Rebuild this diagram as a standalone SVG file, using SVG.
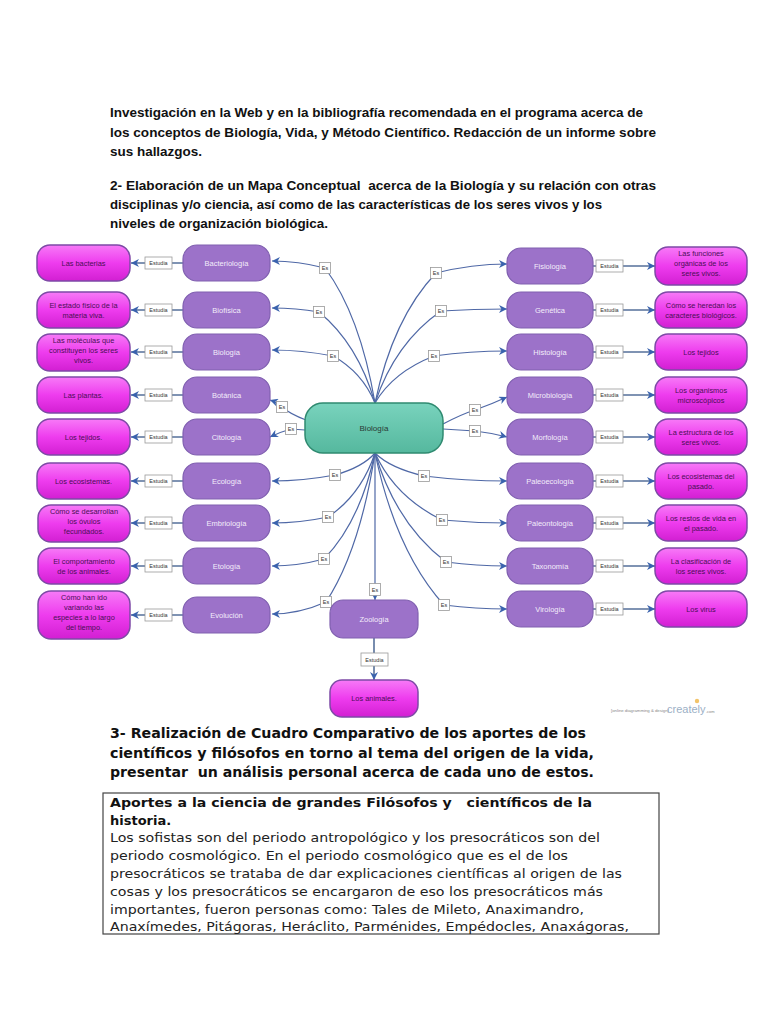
<svg xmlns="http://www.w3.org/2000/svg" width="768" height="1024" viewBox="0 0 768 1024">
<defs>
<linearGradient id="pinkG" x1="0" y1="0" x2="0" y2="1"><stop offset="0" stop-color="#f77af7"/><stop offset="0.5" stop-color="#ee3cee"/><stop offset="1" stop-color="#d21fd2"/></linearGradient>
<linearGradient id="tealG" x1="0" y1="0" x2="0" y2="1"><stop offset="0" stop-color="#79d3bd"/><stop offset="1" stop-color="#55b89e"/></linearGradient>
<marker id="arr" viewBox="0 0 10 10" refX="10" refY="5" markerWidth="8" markerHeight="8" markerUnits="userSpaceOnUse" orient="auto"><path d="M0,0 L10,5 L0,10 L3,5 z" fill="#3a62ad"/></marker>
<style>
.hd{font-family:"Liberation Sans",Arial,sans-serif;font-weight:bold;font-size:12px;fill:#111}
.h3{font-family:"DejaVu Sans",sans-serif;font-weight:bold;font-size:13.5px;fill:#111}
.bt{font-family:"DejaVu Sans",sans-serif;font-size:13px;fill:#222}
.bb{font-family:"DejaVu Sans",sans-serif;font-weight:bold;font-size:13px;fill:#111}
.pu rect{fill:#9c72c9;stroke:#8060b0;stroke-width:1.2}
.pu text{font-family:"Liberation Sans",Arial,sans-serif;font-size:7.5px;fill:#f3ecfa;text-anchor:middle}
.pk rect{fill:url(#pinkG);stroke:#7e4aa6;stroke-width:1.5}
.pk text{font-family:"Liberation Sans",Arial,sans-serif;font-size:7.4px;fill:#4a0f55;text-anchor:middle}
.lb rect{fill:#fff;stroke:#9a9a9a;stroke-width:0.8}
.lb text{font-family:"Liberation Sans",Arial,sans-serif;font-size:5.5px;fill:#333;text-anchor:middle}
.es{fill:none;stroke:#4f68a6;stroke-width:1.2}
.st{fill:none;stroke:#56709a;stroke-width:1.6}
</style>
</defs>
<rect width="768" height="1024" fill="#fff"/>

<g id="header">
<text class="hd" x="110" y="117" textLength="533" lengthAdjust="spacingAndGlyphs">Investigación en la Web y en la bibliografía recomendada en el programa acerca de</text>
<text class="hd" x="110" y="137" textLength="546" lengthAdjust="spacingAndGlyphs">los conceptos de Biología, Vida, y Método Científico. Redacción de un informe sobre</text>
<text class="hd" x="110" y="156" textLength="92" lengthAdjust="spacingAndGlyphs">sus hallazgos.</text>
<text class="hd" x="110" y="190" textLength="546" lengthAdjust="spacingAndGlyphs" xml:space="preserve">2- Elaboración de un Mapa Conceptual  acerca de la Biología y su relación con otras</text>
<text class="hd" x="110" y="209" textLength="492" lengthAdjust="spacingAndGlyphs">disciplinas y/o ciencia, así como de las características de los seres vivos y los</text>
<text class="hd" x="110" y="228" textLength="218" lengthAdjust="spacingAndGlyphs">niveles de organización biológica.</text>
</g>

<g id="connectors">
<path class="es" marker-end="url(#arr)" d="M375,403 Q360,315 325,268 Q298,261 272,261"/>
<path class="es" marker-end="url(#arr)" d="M375,403 Q358,344 319,312 Q296,308 272,308"/>
<path class="es" marker-end="url(#arr)" d="M375,403 Q362,372 333,356 Q302,350 272,350"/>
<path class="es" marker-end="url(#arr)" d="M375,403 Q393,318 436,273 Q472,264 507,264"/>
<path class="es" marker-end="url(#arr)" d="M375,403 Q395,343 441,311 Q474,309 507,309"/>
<path class="es" marker-end="url(#arr)" d="M375,403 Q393,372 434,356 Q470,351 507,351"/>
<path class="es" marker-end="url(#arr)" d="M375,453 Q363,467 335,475 Q303,481 272,481"/>
<path class="es" marker-end="url(#arr)" d="M375,453 Q361,495 328,517 Q300,523 272,523"/>
<path class="es" marker-end="url(#arr)" d="M375,453 Q360,522 324,559 Q298,566 272,566"/>
<path class="es" marker-end="url(#arr)" d="M375,453 Q360,550 326,602 Q299,614 272,614"/>
<path class="es" marker-end="url(#arr)" d="M375,453 Q390,468 424,476 Q465,481 507,481"/>
<path class="es" marker-end="url(#arr)" d="M375,453 Q395,497 442,520 Q475,523 507,523"/>
<path class="es" marker-end="url(#arr)" d="M375,453 Q396,524 446,562 Q477,566 507,566"/>
<path class="es" marker-end="url(#arr)" d="M375,453 Q396,552 444,605 Q476,609 507,609"/>
<path class="es" marker-end="url(#arr)" d="M306,420 Q290,414 282,407 Q276,402 270,400"/>
<path class="es" marker-end="url(#arr)" d="M305,430 L291,429 Q280,432 270,437"/>
<path class="es" marker-end="url(#arr)" d="M443,424 Q462,414 475,410 Q492,404 507,397"/>
<path class="es" marker-end="url(#arr)" d="M443,429 L475,431 Q492,433 507,437"/>
<path class="es" marker-end="url(#arr)" d="M375,453 L375,600"/>
<path class="st" marker-end="url(#arr)" d="M374,638 L374,680"/>
<g id="estudia-left">
<path class="st" d="M183,263 L172,263 M145,263 L131,263" marker-end="url(#arr)"/>
<path class="st" d="M183,310 L172,310 M145,310 L131,310" marker-end="url(#arr)"/>
<path class="st" d="M183,352 L172,352 M145,352 L131,352" marker-end="url(#arr)"/>
<path class="st" d="M183,395 L172,395 M145,395 L131,395" marker-end="url(#arr)"/>
<path class="st" d="M183,437 L172,437 M145,437 L131,437" marker-end="url(#arr)"/>
<path class="st" d="M183,481 L172,481 M145,481 L131,481" marker-end="url(#arr)"/>
<path class="st" d="M183,523 L172,523 M145,523 L131,523" marker-end="url(#arr)"/>
<path class="st" d="M183,566 L172,566 M145,566 L131,566" marker-end="url(#arr)"/>
<path class="st" d="M183,615 L172,615 M145,615 L131,615" marker-end="url(#arr)"/>
</g>
<g id="estudia-right">
<path class="st" d="M593,266 L596,266 M623,266 L655,266" marker-end="url(#arr)"/>
<path class="st" d="M593,310 L596,310 M623,310 L655,310" marker-end="url(#arr)"/>
<path class="st" d="M593,352 L596,352 M623,352 L655,352" marker-end="url(#arr)"/>
<path class="st" d="M593,395 L596,395 M623,395 L655,395" marker-end="url(#arr)"/>
<path class="st" d="M593,437 L596,437 M623,437 L655,437" marker-end="url(#arr)"/>
<path class="st" d="M593,481 L596,481 M623,481 L655,481" marker-end="url(#arr)"/>
<path class="st" d="M593,523 L596,523 M623,523 L655,523" marker-end="url(#arr)"/>
<path class="st" d="M593,566 L596,566 M623,566 L655,566" marker-end="url(#arr)"/>
<path class="st" d="M593,609 L596,609 M623,609 L655,609" marker-end="url(#arr)"/>
</g>
<g class="lb">
<rect x="319.5" y="262.5" width="11" height="11"/><text x="325" y="270">Es</text>
<rect x="313.5" y="306.5" width="11" height="11"/><text x="319" y="314">Es</text>
<rect x="327.5" y="350.5" width="11" height="11"/><text x="333" y="358">Es</text>
<rect x="430.5" y="267.5" width="11" height="11"/><text x="436" y="275">Es</text>
<rect x="435.5" y="305.5" width="11" height="11"/><text x="441" y="313">Es</text>
<rect x="428.5" y="350.5" width="11" height="11"/><text x="434" y="358">Es</text>
<rect x="276.5" y="401.5" width="11" height="11"/><text x="282" y="409">Es</text>
<rect x="285.5" y="423.5" width="11" height="11"/><text x="291" y="431">Es</text>
<rect x="469.5" y="404.5" width="11" height="11"/><text x="475" y="412">Es</text>
<rect x="469.5" y="425.5" width="11" height="11"/><text x="475" y="433">Es</text>
<rect x="329.5" y="469.5" width="11" height="11"/><text x="335" y="477">Es</text>
<rect x="322.5" y="511.5" width="11" height="11"/><text x="328" y="519">Es</text>
<rect x="318.5" y="553.5" width="11" height="11"/><text x="324" y="561">Es</text>
<rect x="320.5" y="596.5" width="11" height="11"/><text x="326" y="604">Es</text>
<rect x="418.5" y="470.5" width="11" height="11"/><text x="424" y="478">Es</text>
<rect x="436.5" y="514.5" width="11" height="11"/><text x="442" y="522">Es</text>
<rect x="440.5" y="556.5" width="11" height="11"/><text x="446" y="564">Es</text>
<rect x="438.5" y="599.5" width="11" height="11"/><text x="444" y="607">Es</text>
<rect x="369.5" y="583.5" width="11" height="12"/><text x="375" y="591.5">Es</text>
<rect x="145" y="257" width="27" height="12"/><text x="158.5" y="265">Estudia</text>
<rect x="145" y="304" width="27" height="12"/><text x="158.5" y="312">Estudia</text>
<rect x="145" y="346" width="27" height="12"/><text x="158.5" y="354">Estudia</text>
<rect x="145" y="389" width="27" height="12"/><text x="158.5" y="397">Estudia</text>
<rect x="145" y="431" width="27" height="12"/><text x="158.5" y="439">Estudia</text>
<rect x="145" y="475" width="27" height="12"/><text x="158.5" y="483">Estudia</text>
<rect x="145" y="517" width="27" height="12"/><text x="158.5" y="525">Estudia</text>
<rect x="145" y="560" width="27" height="12"/><text x="158.5" y="568">Estudia</text>
<rect x="145" y="609" width="27" height="12"/><text x="158.5" y="617">Estudia</text>
<rect x="596" y="260" width="27" height="12"/><text x="609.5" y="268">Estudia</text>
<rect x="596" y="304" width="27" height="12"/><text x="609.5" y="312">Estudia</text>
<rect x="596" y="346" width="27" height="12"/><text x="609.5" y="354">Estudia</text>
<rect x="596" y="389" width="27" height="12"/><text x="609.5" y="397">Estudia</text>
<rect x="596" y="431" width="27" height="12"/><text x="609.5" y="439">Estudia</text>
<rect x="596" y="475" width="27" height="12"/><text x="609.5" y="483">Estudia</text>
<rect x="596" y="517" width="27" height="12"/><text x="609.5" y="525">Estudia</text>
<rect x="596" y="560" width="27" height="12"/><text x="609.5" y="568">Estudia</text>
<rect x="596" y="603" width="27" height="12"/><text x="609.5" y="611">Estudia</text>
<rect x="361" y="653" width="27" height="13"/><text x="374.5" y="661.5">Estudia</text>
</g>
</g>

<g id="biologia">
<rect x="305" y="403" width="138" height="50" rx="18" fill="url(#tealG)" stroke="#2f8a70" stroke-width="1.5"/>
<text x="374" y="431" font-family="Liberation Sans, Arial, sans-serif" font-size="8px" fill="#2a3a35" text-anchor="middle">Biología</text>
</g>

<g class="pu">
<g id="n-bacteriologia"><rect x="183" y="245" width="87" height="36" rx="14"/><text x="226.5" y="266">Bacteriología</text></g>
<g id="n-biofisica"><rect x="183" y="292" width="87" height="36" rx="14"/><text x="226.5" y="313">Biofísica</text></g>
<g id="n-biologia2"><rect x="183" y="334" width="87" height="36" rx="14"/><text x="226.5" y="355">Biología</text></g>
<g id="n-botanica"><rect x="183" y="377" width="87" height="36" rx="14"/><text x="226.5" y="398">Botánica</text></g>
<g id="n-citologia"><rect x="183" y="419" width="87" height="36" rx="14"/><text x="226.5" y="440">Citología</text></g>
<g id="n-ecologia"><rect x="183" y="463" width="87" height="36" rx="14"/><text x="226.5" y="484">Ecología</text></g>
<g id="n-embriologia"><rect x="183" y="505" width="87" height="36" rx="14"/><text x="226.5" y="526">Embriología</text></g>
<g id="n-etologia"><rect x="183" y="548" width="87" height="36" rx="14"/><text x="226.5" y="569">Etología</text></g>
<g id="n-evolucion"><rect x="183" y="597" width="87" height="36" rx="14"/><text x="226.5" y="618">Evolución</text></g>
<g id="n-fisiologia"><rect x="507" y="248" width="86" height="36" rx="14"/><text x="550" y="269">Fisiología</text></g>
<g id="n-genetica"><rect x="507" y="292" width="86" height="36" rx="14"/><text x="550" y="313">Genética</text></g>
<g id="n-histologia"><rect x="507" y="334" width="86" height="36" rx="14"/><text x="550" y="355">Histología</text></g>
<g id="n-microbiologia"><rect x="507" y="377" width="86" height="36" rx="14"/><text x="550" y="398">Microbiología</text></g>
<g id="n-morfologia"><rect x="507" y="419" width="86" height="36" rx="14"/><text x="550" y="440">Morfología</text></g>
<g id="n-paleoecologia"><rect x="507" y="463" width="86" height="36" rx="14"/><text x="550" y="484">Paleoecología</text></g>
<g id="n-paleontologia"><rect x="507" y="505" width="86" height="36" rx="14"/><text x="550" y="526">Paleontología</text></g>
<g id="n-taxonomia"><rect x="507" y="548" width="86" height="36" rx="14"/><text x="550" y="569">Taxonomía</text></g>
<g id="n-virologia"><rect x="507" y="591" width="86" height="36" rx="14"/><text x="550" y="612">Virología</text></g>
<g id="n-zoologia"><rect x="330" y="600" width="88" height="38" rx="13"/><text x="374" y="622">Zoología</text></g>
</g>

<g class="pk">
<g id="p-bacterias"><rect x="37" y="245" width="93" height="36" rx="13"/><text x="83.5" y="266">Las bacterias</text></g>
<g id="p-estado"><rect x="37" y="292" width="93" height="36" rx="13"/><text x="83.5" y="308">El estado físico de la</text><text x="83.5" y="318">materia viva.</text></g>
<g id="p-moleculas"><rect x="37" y="334" width="93" height="37" rx="13"/><text x="83.5" y="343">Las moléculas que</text><text x="83.5" y="353">constituyen los seres</text><text x="83.5" y="363">vivos.</text></g>
<g id="p-plantas"><rect x="37" y="377" width="93" height="36" rx="13"/><text x="83.5" y="398">Las plantas.</text></g>
<g id="p-tejidos"><rect x="37" y="419" width="93" height="36" rx="13"/><text x="83.5" y="440">Los tejidos.</text></g>
<g id="p-ecosistemas"><rect x="37" y="463" width="93" height="36" rx="13"/><text x="83.5" y="484">Los ecosistemas.</text></g>
<g id="p-ovulos"><rect x="38" y="505" width="92" height="37" rx="13"/><text x="84" y="514">Cómo se desarrollan</text><text x="84" y="524">los óvulos</text><text x="84" y="534">fecundados.</text></g>
<g id="p-comportamiento"><rect x="38" y="548" width="92" height="36" rx="13"/><text x="84" y="564">El comportamiento</text><text x="84" y="574">de los animales.</text></g>
<g id="p-especies"><rect x="38" y="591" width="92" height="48" rx="13"/><text x="84" y="600">Cómo han ido</text><text x="84" y="610">variando las</text><text x="84" y="620">especies a lo largo</text><text x="84" y="630">del tiempo.</text></g>
<g id="p-funciones"><rect x="655" y="247" width="92" height="38" rx="13"/><text x="701" y="256">Las funciones</text><text x="701" y="266">orgánicas de los</text><text x="701" y="276">seres vivos.</text></g>
<g id="p-heredan"><rect x="655" y="292" width="92" height="36" rx="13"/><text x="701" y="308">Cómo se heredan los</text><text x="701" y="318">caracteres biológicos.</text></g>
<g id="p-tejidos2"><rect x="655" y="334" width="92" height="36" rx="13"/><text x="701" y="355">Los tejidos</text></g>
<g id="p-microscopicos"><rect x="655" y="377" width="92" height="36" rx="13"/><text x="701" y="393">Los organismos</text><text x="701" y="403">microscópicos</text></g>
<g id="p-estructura"><rect x="655" y="419" width="92" height="36" rx="13"/><text x="701" y="435">La estructura de los</text><text x="701" y="445">seres vivos.</text></g>
<g id="p-pasado"><rect x="655" y="463" width="92" height="36" rx="13"/><text x="701" y="479">Los ecosistemas del</text><text x="701" y="489">pasado.</text></g>
<g id="p-restos"><rect x="655" y="505" width="92" height="36" rx="13"/><text x="701" y="521">Los restos de vida en</text><text x="701" y="531">el pasado.</text></g>
<g id="p-clasificacion"><rect x="655" y="548" width="92" height="36" rx="13"/><text x="701" y="564">La clasificación de</text><text x="701" y="574">los seres vivos.</text></g>
<g id="p-virus"><rect x="655" y="591" width="92" height="36" rx="13"/><text x="701" y="612">Los virus</text></g>
<g id="p-animales"><rect x="330" y="680" width="88" height="37" rx="12"/><text x="374" y="701">Los animales.</text></g>
</g>

<g id="watermark">
<text x="611" y="712" font-family="Liberation Sans, Arial, sans-serif" font-size="4.3px" fill="#888">[online diagramming &amp; design]</text>
<text x="667" y="713" font-family="Liberation Sans, Arial, sans-serif" font-size="11px" fill="#9cb0c6">creately</text>
<text x="706" y="713" font-family="Liberation Sans, Arial, sans-serif" font-size="4px" fill="#888">.com</text>
<circle cx="697" cy="701" r="2.2" fill="#f2c46a"/>
</g>

<g id="section3">
<text class="h3" x="110" y="738" textLength="476" lengthAdjust="spacingAndGlyphs">3- Realización de Cuadro Comparativo de los aportes de los</text>
<text class="h3" x="110" y="758" textLength="484" lengthAdjust="spacingAndGlyphs">científicos y filósofos en torno al tema del origen de la vida,</text>
<text class="h3" x="110" y="777" textLength="484" lengthAdjust="spacingAndGlyphs" xml:space="preserve">presentar  un análisis personal acerca de cada uno de estos.</text>
</g>

<g id="textbox">
<rect x="103" y="793" width="556" height="141" fill="none" stroke="#444" stroke-width="1.2"/>
<text class="bb" x="110" y="807" textLength="482" lengthAdjust="spacingAndGlyphs" xml:space="preserve">Aportes a la ciencia de grandes Filósofos y   científicos de la</text>
<text class="bb" x="110" y="825">historia.</text>
<text class="bt" x="110" y="842" textLength="490" lengthAdjust="spacingAndGlyphs">Los sofistas son del periodo antropológico y los presocráticos son del</text>
<text class="bt" x="110" y="860" textLength="458" lengthAdjust="spacingAndGlyphs">periodo cosmológico. En el periodo cosmológico que es el de los</text>
<text class="bt" x="110" y="878" textLength="512" lengthAdjust="spacingAndGlyphs">presocráticos se trataba de dar explicaciones científicas al origen de las</text>
<text class="bt" x="110" y="896" textLength="493" lengthAdjust="spacingAndGlyphs">cosas y los presocráticos se encargaron de eso los presocráticos más</text>
<text class="bt" x="110" y="914" textLength="474" lengthAdjust="spacingAndGlyphs">importantes, fueron personas como: Tales de Mileto, Anaximandro,</text>
<text class="bt" x="110" y="931" textLength="519" lengthAdjust="spacingAndGlyphs">Anaxímedes, Pitágoras, Heráclito, Parménides, Empédocles, Anaxágoras,</text>
</g>
</svg>
